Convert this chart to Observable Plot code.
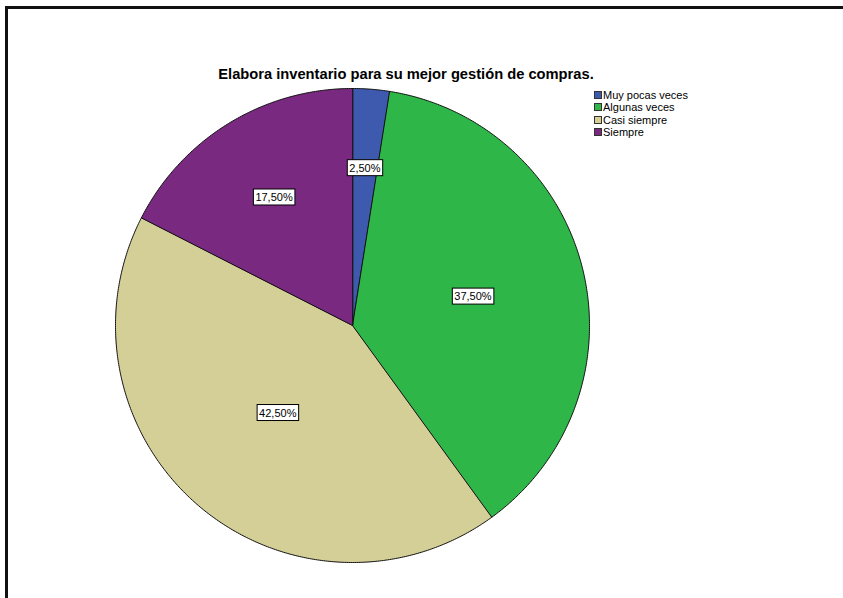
<!DOCTYPE html>
<html>
<head>
<meta charset="utf-8">
<script src="https://cdn.jsdelivr.net/npm/d3@7"></script>
<script src="https://cdn.jsdelivr.net/npm/@observablehq/plot@0.6"></script>
<style>
  html, body { margin: 0; padding: 0; background: #fff; }
  #wrap { position: relative; width: 843px; height: 598px; overflow: hidden; font-family: "Liberation Sans", Arial, sans-serif; }
  #frame { position: absolute; left: 5px; top: 6px; width: 900px; height: 700px; border-top: 3px solid #111; border-left: 3px solid #111; box-sizing: border-box; }
  #chart { position: absolute; left: 0; top: 0; }
  #title { position: absolute; left: 0; width: 812px; top: 66px; text-align: center; font-weight: bold; font-size: 14.7px; color: #000; }
  #legend { position: absolute; left: 594px; top: 89px; font-size: 11px; color: #000; }
  .row { height: 12.3px; line-height: 12.3px; white-space: nowrap; display: flex; align-items: center; }
  .sw { width: 8px; height: 8px; border: 1px solid #333; margin-right: 1px; box-sizing: border-box; }
</style>
</head>
<body>
<div id="wrap">
  <div id="frame"></div>
  <div id="chart"></div>
  <div id="title"></div>
  <div id="legend"></div>
</div>
<script>
const titleText = "Elabora inventario para su mejor gestión de compras.";
const categories = ["Muy pocas veces", "Algunas veces", "Casi siempre", "Siempre"];
const percents = [2.5, 37.5, 42.5, 17.5];
const colors = ["#3E5AAE", "#2EB748", "#D4CE97", "#7A2980"];

// Build slices (clockwise from 12 o'clock)
const total = d3.sum(percents);
let acc = 0;
const slices = categories.map((c, i) => {
  const a0 = acc / total * 2 * Math.PI;
  acc += percents[i];
  const a1 = acc / total * 2 * Math.PI;
  return {category: c, value: percents[i], a0, a1};
});

// Polygon outline of each slice in unit-circle coordinates
const outline = [];
for (const s of slices) {
  outline.push({category: s.category, x: 0, y: 0});
  const n = Math.max(2, Math.ceil((s.a1 - s.a0) / (Math.PI / 360)));
  for (let k = 0; k <= n; k++) {
    const a = s.a0 + (s.a1 - s.a0) * k / n;
    outline.push({category: s.category, x: Math.sin(a), y: Math.cos(a)});
  }
}

// Label at sector centroid
const labels = slices.map(s => {
  const half = (s.a1 - s.a0) / 2;
  const mid = s.a0 + half;
  const r = 2 * Math.sin(half) / (3 * half);
  return {category: s.category, x: r * Math.sin(mid), y: r * Math.cos(mid),
          text: s.value.toFixed(2).replace(".", ",") + "%"};
});

const R = 237, CX = 352, CY = 325, W = 843, H = 598;
const plot = Plot.plot({
  width: W, height: H,
  margin: 0,
  x: {domain: [-CX / R, (W - CX) / R], range: [0, W], axis: null},
  y: {domain: [-(H - CY) / R, CY / R], range: [H, 0], axis: null},
  color: {domain: categories, range: colors},
  style: {background: "transparent", overflow: "visible"},
  marks: [
    Plot.line(outline, {x: "x", y: "y", z: "category", fill: "category", stroke: "#111", strokeWidth: 1, curve: "linear-closed"}),
    Plot.text(labels, {x: "x", y: "y", text: "text", fontSize: 11, fill: "#000", fontFamily: "Liberation Sans, Arial, sans-serif"})
  ]
});
document.getElementById("chart").appendChild(plot);

// white boxes with black outline behind the labels
plot.querySelectorAll("g[aria-label='text'] text").forEach(t => {
  const b = t.getBBox();
  const rect = document.createElementNS("http://www.w3.org/2000/svg", "rect");
  const padX = 2, h = 16;
  rect.setAttribute("x", b.x - padX);
  rect.setAttribute("y", b.y + b.height / 2 - h / 2);
  rect.setAttribute("width", b.width + 2 * padX);
  rect.setAttribute("height", h);
  rect.setAttribute("fill", "#fff");
  rect.setAttribute("stroke", "#000");
  rect.setAttribute("stroke-width", 1);
  const tr = t.getAttribute("transform");
  if (tr) rect.setAttribute("transform", tr);
  t.parentNode.insertBefore(rect, t);
});

document.getElementById("title").textContent = titleText;
const legend = document.getElementById("legend");
categories.forEach((c, i) => {
  const row = document.createElement("div");
  row.className = "row";
  const sw = document.createElement("div");
  sw.className = "sw";
  sw.style.background = colors[i];
  const lab = document.createElement("span");
  lab.textContent = c;
  row.appendChild(sw);
  row.appendChild(lab);
  legend.appendChild(row);
});
</script>
</body>
</html>
